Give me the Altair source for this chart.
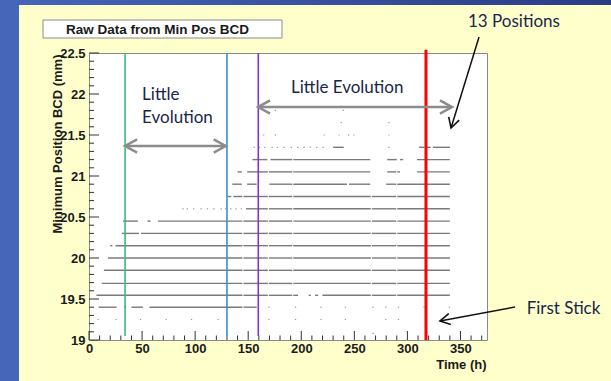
import altair as alt
import pandas as pd

W, H = 398, 287
X_DOMAIN = [0, 375]
Y_DOMAIN = [19.0, 22.5]

# ---------------- data ----------------
# continuous traces: level (mm) -> list of (start h, end h)
trace_levels = [19.40, 19.545, 19.69, 19.85, 20.00, 20.15, 20.30, 20.45,
                20.60, 20.75, 20.90, 21.05, 21.20, 21.35]
trace_segments = [
    [(9, 26), (33, 35), (40, 51), (57, 158)],
    [(7, 197), (207, 209), (213, 216), (220, 340)],
    [(12, 340)],
    [(14, 340)],
    [(18, 340)],
    [(20, 22), (25, 340)],
    [(31, 47), (49, 340)],
    [(32, 46), (55, 58), (65, 340)],
    [(148, 340)],
    [(131, 134), (136, 340)],
    [(135, 144), (149, 158), (170, 243), (245, 265), (280, 340)],
    [(140, 144), (149, 265), (281, 293), (309, 340)],
    [(154, 168), (171, 265), (281, 290), (293, 296), (309, 340)],
    [(230, 240), (311, 316), (318, 322), (324, 340)],
]
# short data gaps common to most traces (h)
common_gaps = [(144.5, 145.5), (168.5, 169.5), (191.5, 192.5), (265.5, 266.5), (289.5, 290.5)]

# isolated points: level (mm) -> times (h)
dot_levels = [19.08, 19.25, 19.40, 20.60, 21.35, 21.50, 21.65, 21.80]
dot_times = [
    [267],
    [8, 25, 48, 72, 96, 121, 169, 194, 218, 241, 279, 291],
    [169, 194, 218, 241, 267, 279, 291, 315, 339],
    [88, 92, 98, 105, 111, 117, 124, 128, 133, 138, 143],
    [155, 160, 165, 172, 177, 183, 190, 196, 202, 208, 214, 220, 282],
    [164, 175, 221, 235, 244, 249, 282],
    [237, 282],
    [175, 239],
]

# vertical markers
vline_t = [34, 130, 159.5, 317.5]
vline_bottom = [19.05, 19.05, 19.05, 19.0]
vline_top = [22.5, 22.5, 22.5, 22.54]
vline_color = ["#3DBA78", "#3A8ED0", "#8435C4", "#FF0000"]
vline_width = [1.6, 1.6, 1.6, 3.0]

# axis labels
x_labels = [0, 50, 100, 150, 200, 250, 300, 350]
y_labels = [19, 19.5, 20, 20.5, 21, 21.5, 22, 22.5]
x_minor = [v for v in range(10, 375, 10) if v % 50 != 0]
y_minor = [round(19 + 0.1 * i, 1) for i in range(1, 35) if i % 5 != 0]

# annotations
note_text = ["Little", "Evolution", "Little Evolution", "13 Positions", "First Stick"]
note_t = [50, 50, 190.3, 357.1, 412.4]
note_v = [21.988, 21.707, 22.073, 22.878, 19.374]

gray_arrow_t1 = [34, 159.3]
gray_arrow_t2 = [128.8, 342]
gray_arrow_v = [21.366, 21.841]

black_arrow_t1 = [367.5, 401.4]
black_arrow_v1 = [22.695, 19.402]
black_arrow_t2 = [341.1, 330.7]
black_arrow_v2 = [21.585, 19.232]
black_arrow_angle = [107, 169]

# ---------------- tables ----------------
def cut(a, b, gaps):
    out = [(a, b)]
    for g0, g1 in gaps:
        nxt = []
        for s, e in out:
            if g0 > s and g1 < e:
                nxt += [(s, g0), (g1, e)]
            else:
                nxt.append((s, e))
        out = nxt
    return out

rows = []
for lev, segs in zip(trace_levels, trace_segments):
    for a, b in segs:
        for s, e in cut(a, b, common_gaps):
            rows.append({"t": s, "t2": e, "v": lev})
df_tr = pd.DataFrame(rows)

drows = []
for lev, ts in zip(dot_levels, dot_times):
    for t in ts:
        drows.append({"t": t, "t2": t + 1.2, "v": lev})
df_dots = pd.DataFrame(drows)

df_vl = pd.DataFrame({"t": vline_t, "v": vline_bottom, "v2": vline_top,
                      "c": vline_color, "w": vline_width})
df_notes = pd.DataFrame({"t": note_t, "v": note_v, "label": note_text})
df_ga = pd.DataFrame({"t": gray_arrow_t1, "t2": gray_arrow_t2, "v": gray_arrow_v})
df_gh = pd.DataFrame({"t": gray_arrow_t1 + gray_arrow_t2, "v": gray_arrow_v * 2,
                      "a": [180, 180, 0, 0]})
df_ba = pd.DataFrame({"t": black_arrow_t1, "v": black_arrow_v1,
                      "t2": black_arrow_t2, "v2": black_arrow_v2})
df_bh = pd.DataFrame({"t": black_arrow_t2, "v": black_arrow_v2, "a": black_arrow_angle})

# ---------------- encodings ----------------
x_scale = alt.Scale(domain=X_DOMAIN, nice=False, zero=False)
y_scale = alt.Scale(domain=Y_DOMAIN, nice=False, zero=False)
AX_FONT = "Liberation Sans"
x_axis = alt.Axis(values=x_labels, ticks=False, domain=False, grid=False,
                  labelFlush=False, labelOverlap=False, labelFont=AX_FONT,
                  labelFontWeight="bold", labelFontSize=13, labelColor="#1a1a1a",
                  labelPadding=2, title="Time (h)", titleFont=AX_FONT,
                  titleFontWeight="bold", titleFontSize=13, titleColor="#1a1a1a",
                  titleX=397, titleY=24, titleAlign="right", titleBaseline="middle")
y_axis = alt.Axis(values=y_labels, format="~g", ticks=False, domain=False, grid=False,
                  labelFlush=False, labelOverlap=False, labelFont=AX_FONT,
                  labelFontWeight="bold", labelFontSize=13, labelColor="#1a1a1a",
                  labelPadding=4, title="Minimum Position BCD (mm)", titleFont=AX_FONT,
                  titleFontWeight="bold", titleFontSize=13, titleColor="#1a1a1a",
                  titleAngle=270, titleX=-32, titleY=1, titleAlign="right",
                  titleBaseline="middle")
X = alt.X("t:Q", scale=x_scale, axis=x_axis)
Y = alt.Y("v:Q", scale=y_scale, axis=y_axis)

one = alt.Data(values=[{}])
chevron = "M-1,-0.55L0,0L-1,0.55"

bg_left = alt.Chart(one).mark_rect(color="#4666BA").encode(
    x=alt.value(-89), x2=alt.value(-70), y=alt.value(-53), y2=alt.value(H + 41))
bg_top = alt.Chart(one).mark_rect(
    color=alt.Gradient(gradient="linear", x1=0, x2=1, y1=0, y2=0,
                       stops=[alt.GradientStop(color="#4666BA", offset=0),
                              alt.GradientStop(color="#2A3C86", offset=1)])
).encode(x=alt.value(-89), x2=alt.value(W + 124), y=alt.value(-53), y2=alt.value(-48))

title_box = alt.Chart(one).mark_rect(fill="white", stroke="#8a8a8a", strokeWidth=1).encode(
    x=alt.value(-46), x2=alt.value(193), y=alt.value(-33), y2=alt.value(-15))
title_txt = alt.Chart(one).mark_text(text="Raw Data from Min Pos BCD", font=AX_FONT,
                                     fontWeight="bold", fontSize=13.5, color="#1a1a1a",
                                     align="center", baseline="middle").encode(
    x=alt.value(68.5), y=alt.value(-23.5))

traces = alt.Chart(df_tr).mark_rule(stroke="#7a7a7a", strokeWidth=1.4).encode(
    x=X, x2="t2:Q", y=Y)
dots = alt.Chart(df_dots).mark_rule(stroke="#9a9a9a", strokeWidth=1.2).encode(
    x=X, x2="t2:Q", y=Y)

xt_major = alt.Chart(pd.DataFrame({"t": x_labels})).mark_rule(stroke="#333", strokeWidth=1).encode(
    x=X, y=alt.value(H), y2=alt.value(H - 9))
xt_minor = alt.Chart(pd.DataFrame({"t": x_minor})).mark_rule(stroke="#333", strokeWidth=1).encode(
    x=X, y=alt.value(H), y2=alt.value(H - 4.5))
yt_major = alt.Chart(pd.DataFrame({"v": y_labels})).mark_rule(stroke="#333", strokeWidth=1).encode(
    y=Y, x=alt.value(0), x2=alt.value(10))
yt_minor = alt.Chart(pd.DataFrame({"v": y_minor})).mark_rule(stroke="#333", strokeWidth=1).encode(
    y=Y, x=alt.value(0), x2=alt.value(5))

vlines = alt.Chart(df_vl).mark_rule().encode(
    x=X, y=Y, y2="v2:Q",
    color=alt.Color("c:N", scale=None),
    strokeWidth=alt.StrokeWidth("w:Q", scale=None))

gray_lines = alt.Chart(df_ga).mark_rule(stroke="#8c8c8c", strokeWidth=2.5).encode(
    x=X, x2="t2:Q", y=Y)
gray_heads = alt.Chart(df_gh).mark_point(shape=chevron, filled=False, size=576,
                                         stroke="#8c8c8c", strokeWidth=2.5, opacity=1).encode(
    x=X, y=Y, angle=alt.Angle("a:Q", scale=None))

black_lines = alt.Chart(df_ba).mark_rule(stroke="#111", strokeWidth=1.5).encode(
    x=X, y=Y, x2="t2:Q", y2="v2:Q")
black_heads = alt.Chart(df_bh).mark_point(shape=chevron, filled=False, size=400,
                                          stroke="#111", strokeWidth=1.6, opacity=1).encode(
    x=X, y=Y, angle=alt.Angle("a:Q", scale=None))

notes = alt.Chart(df_notes).mark_text(align="left", baseline="middle", font="Lato",
                                      fontSize=17, color="#18264A").encode(
    x=X, y=Y, text="label:N")

chart = alt.layer(
    bg_left, bg_top, title_box, title_txt,
    traces, dots, xt_major, xt_minor, yt_major, yt_minor, vlines,
    gray_lines, gray_heads, black_lines, black_heads, notes,
).properties(
    width=W, height=H,
    autosize=alt.AutoSizeParams(type="none"),
    padding={"left": 89, "top": 53, "right": 124, "bottom": 41},
    background="#FFFFCC",
).configure_view(fill="white", stroke="#8a8a8a", strokeWidth=1)

chart.save("out.html", embed_options={"renderer": "svg", "actions": False})
